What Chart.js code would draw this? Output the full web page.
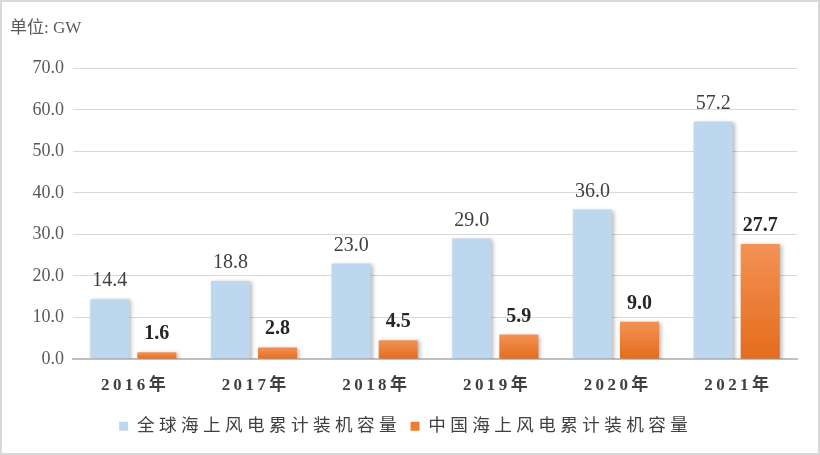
<!DOCTYPE html>
<html>
<head>
<meta charset="utf-8">
<script src="https://cdn.jsdelivr.net/npm/chart.js@4"></script>
<style>
  body { margin: 0; background: #fff; }
  #wrap { width: 820px; height: 455px; }
</style>
</head>
<body>
<div id="wrap"><canvas id="capacity-chart"></canvas></div>
<script>
var years = ["2016年", "2017年", "2018年", "2019年", "2020年", "2021年"];
var globalCapacity = [14.4, 18.8, 23.0, 29.0, 36.0, 57.2];
var chinaCapacity = [1.6, 2.8, 4.5, 5.9, 9.0, 27.7];
var seriesNames = ["全球海上风电累计装机容量", "中国海上风电累计装机容量"];
var unitLabel = "单位: GW";

var serif = "'Liberation Serif', 'Times New Roman', 'Noto Sans CJK SC', serif";

function spaced(text, gap) {
  return text.split("").join(gap);
}

function orangeFill(context) {
  var chart = context.chart;
  var area = chart.chartArea;
  if (!area || context.parsed == null) return "#ed7d31";
  var yScale = chart.scales.y;
  var top = yScale.getPixelForValue(context.parsed.y);
  var bottom = yScale.getPixelForValue(0);
  if (!isFinite(top) || bottom - top < 1) return "#ed7d31";
  var g = chart.ctx.createLinearGradient(0, top, 0, bottom);
  g.addColorStop(0, "#f39255");
  g.addColorStop(1, "#e46c1b");
  return g;
}

// white background + grey frame
var framePlugin = {
  id: "frame",
  beforeDraw: function(chart) {
    var ctx = chart.ctx;
    ctx.save();
    ctx.fillStyle = "#fff";
    ctx.fillRect(0, 0, chart.width, chart.height);
    ctx.strokeStyle = "#d9d9d9";
    ctx.lineWidth = 2;
    ctx.strokeRect(1, 1, chart.width - 2, chart.height - 2);
    ctx.restore();
  }
};

// soft shadow on bars, then value labels above them
var barLabelPlugin = {
  id: "barLabels",
  beforeDatasetsDraw: function(chart) {
    var ctx = chart.ctx;
    ctx.save();
    ctx.shadowColor = "rgba(0,0,0,0.28)";
    ctx.shadowBlur = 4;
    ctx.shadowOffsetX = 2;
    ctx.shadowOffsetY = 1;
  },
  afterDatasetsDraw: function(chart) {
    var ctx = chart.ctx;
    ctx.restore();
    ctx.save();
    ctx.textAlign = "center";
    ctx.textBaseline = "alphabetic";
    chart.data.datasets.forEach(function(ds, i) {
      var meta = chart.getDatasetMeta(i);
      if (meta.hidden) return;
      ctx.font = (i === 1 ? "bold " : "") + "20px " + serif;
      ctx.fillStyle = i === 1 ? "#262626" : "#404040";
      meta.data.forEach(function(bar, j) {
        ctx.fillText(ds.data[j].toFixed(1), bar.x, bar.y - 13);
      });
    });
    ctx.restore();
  }
};

document.addEventListener("DOMContentLoaded", function() {
  var canvas = document.getElementById("capacity-chart").getContext("2d");
  var capacityChart = new Chart(canvas, {
    type: "bar",
    data: {
      labels: years,
      datasets: [{
        label: seriesNames[0],
        data: globalCapacity,
        backgroundColor: "#bdd7ee",
        borderWidth: 0,
        categoryPercentage: 0.78,
        barPercentage: 0.83
      }, {
        label: seriesNames[1],
        data: chinaCapacity,
        backgroundColor: orangeFill,
        borderWidth: 0,
        categoryPercentage: 0.78,
        barPercentage: 0.83
      }]
    },
    options: {
      responsive: true,
      maintainAspectRatio: false,
      animation: false,
      layout: {
        padding: { left: 10, right: 23, top: 0, bottom: 10 }
      },
      scales: {
        y: {
          min: 0,
          max: 70,
          ticks: {
            stepSize: 10,
            padding: 9,
            color: "#595959",
            font: { family: serif, size: 18 },
            callback: function(v) { return v.toFixed(1); }
          },
          grid: { color: "#d9d9d9", lineWidth: 1, drawTicks: false },
          border: { display: false },
          afterFit: function(scale) { scale.width = 63; }
        },
        x: {
          grid: { display: false },
          border: { color: "#bfbfbf", width: 2 },
          ticks: {
            padding: 8,
            color: "#404040",
            font: { family: serif, size: 17, weight: "bold" },
            callback: function(v, i) { return spaced(years[i], "\u2009"); }
          }
        }
      },
      plugins: {
        title: {
          display: true,
          text: unitLabel,
          align: "start",
          color: "#595959",
          font: { family: serif, size: 17, weight: "normal" },
          padding: { top: 18, bottom: 30 }
        },
        legend: {
          display: true,
          position: "bottom",
          labels: {
            boxWidth: 9,
            boxHeight: 9,
            padding: 14,
            color: "#404040",
            font: { family: serif, size: 17.6 },
            generateLabels: function(chart) {
              var items = Chart.defaults.plugins.legend.labels.generateLabels(chart);
              items.forEach(function(item, i) {
                item.text = spaced(seriesNames[i], "\u2005");
                item.fillStyle = i === 1 ? "#ed7d31" : "#bdd7ee";
                item.lineWidth = 0;
              });
              return items;
            }
          }
        },
        tooltip: { enabled: false }
      }
    },
    plugins: [framePlugin, barLabelPlugin]
  });
});
</script>
</body>
</html>
